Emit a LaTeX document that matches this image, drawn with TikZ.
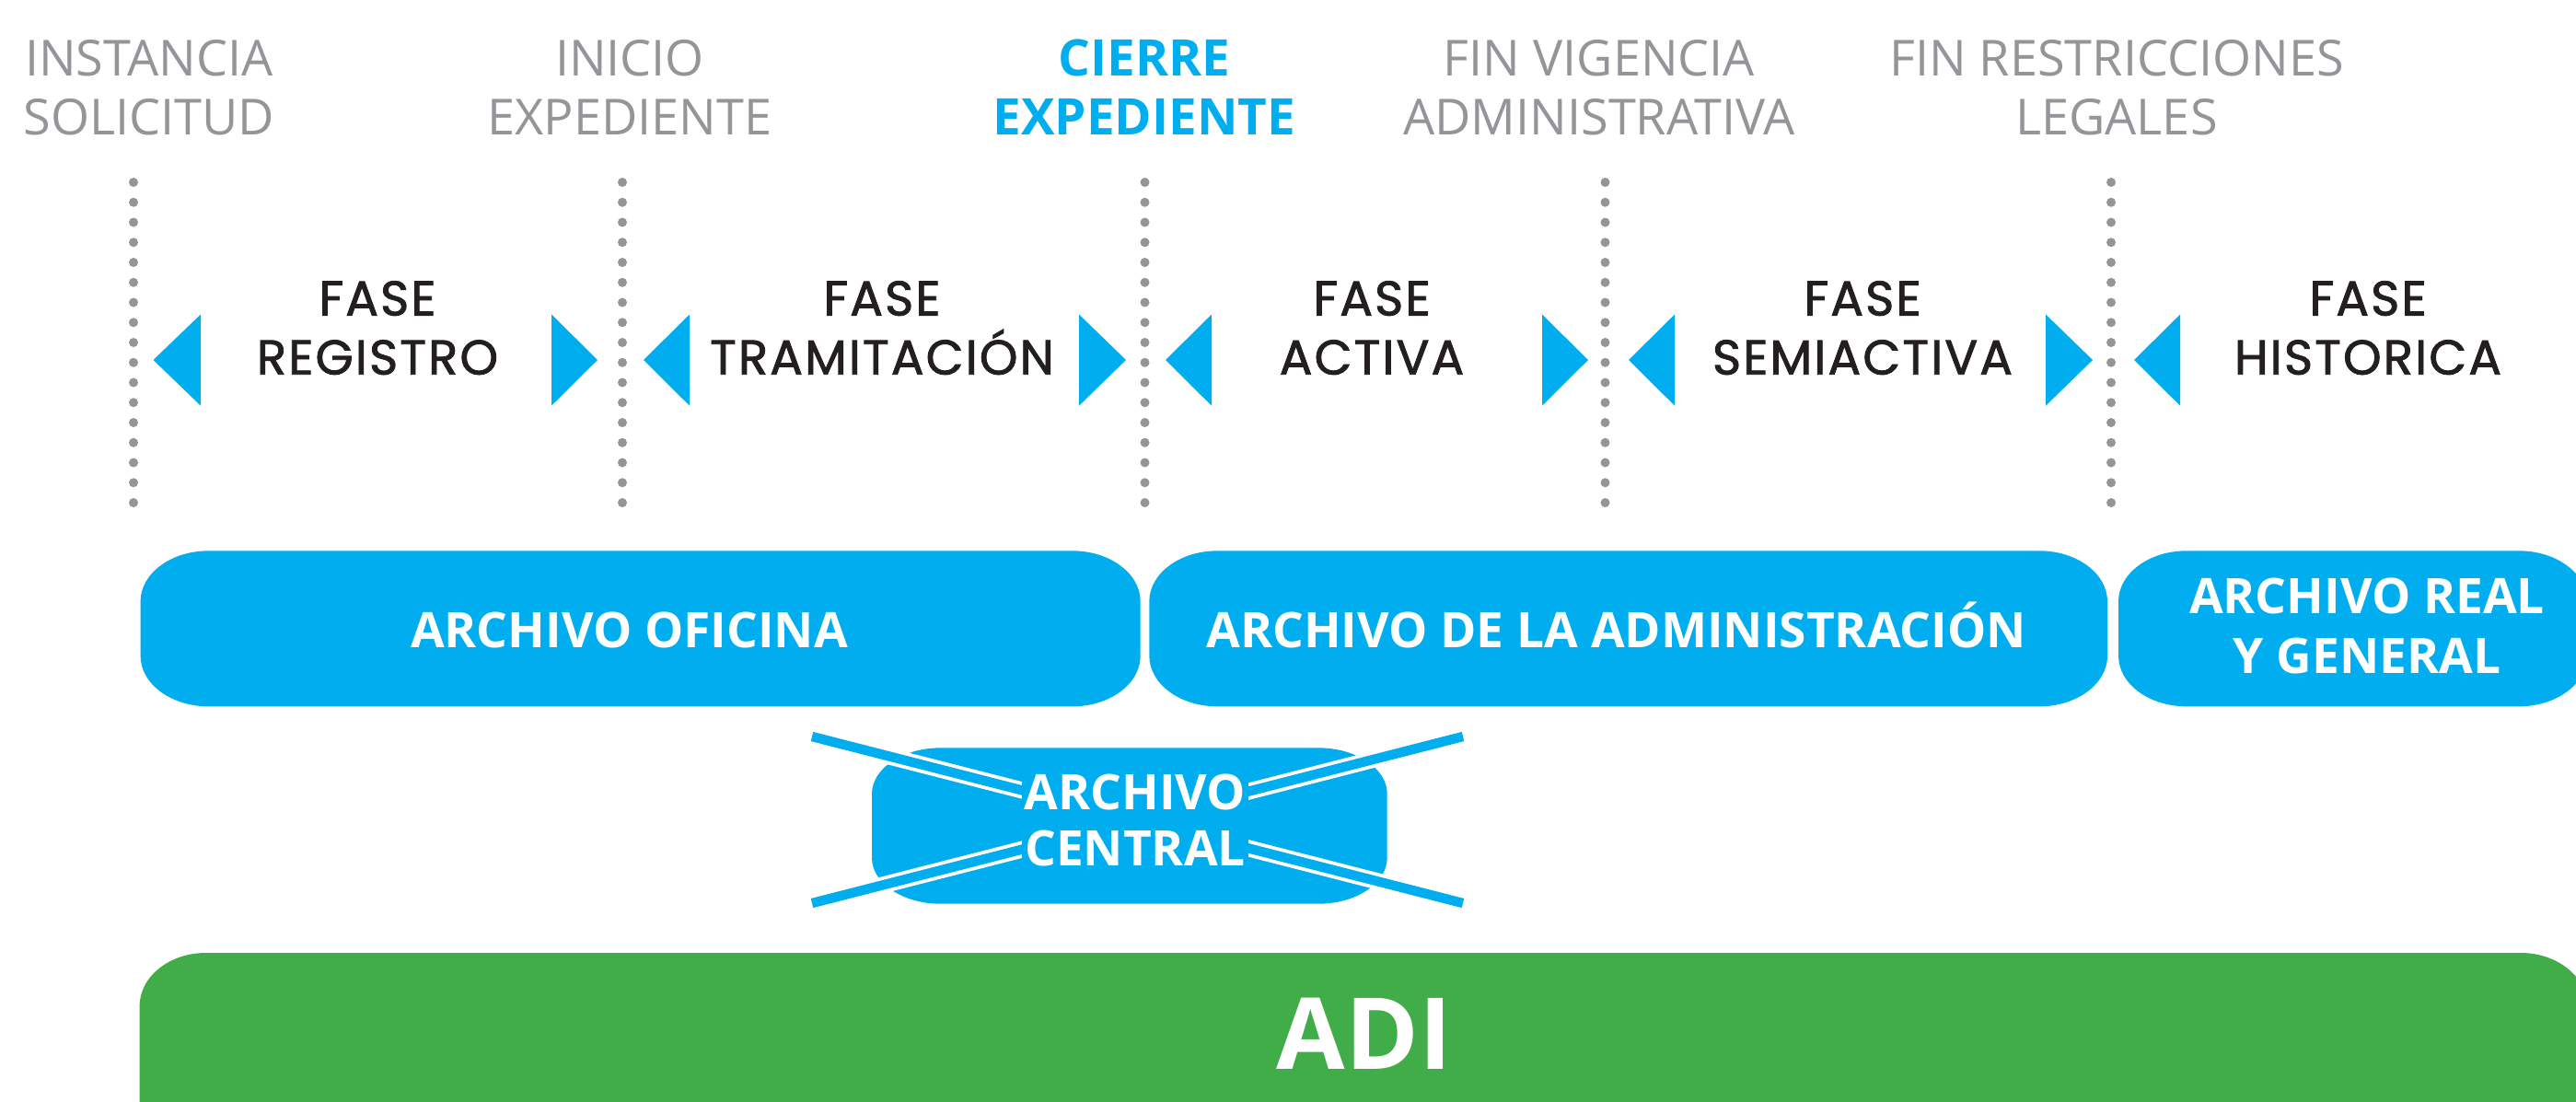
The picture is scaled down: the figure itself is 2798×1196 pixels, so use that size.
\documentclass[tikz,border=0pt]{standalone}
\usepackage{fontspec}
\setmainfont{Open Sans}
\newfontfamily\fasefont[FakeBold=1.6,LetterSpace=4]{Poppins}
\definecolor{cblue}{HTML}{00AEEF}
\definecolor{cgray}{HTML}{939598}
\definecolor{cdark}{HTML}{231F20}
\definecolor{cgreen}{HTML}{41AD49}
% elliptic rounded rectangle: x1,y1,x2,y2,colour,rx,ry
\newcommand\myrrect[7]{%
\fill[#5] ({#1+#6},#2) -- ({#3-#6},#2)
  .. controls ({#3-0.4477*#6},#2) and (#3,{#2+0.4477*#7}) .. (#3,{#2+#7})
  -- (#3,{#4-#7})
  .. controls (#3,{#4-0.4477*#7}) and ({#3-0.4477*#6},#4) .. ({#3-#6},#4)
  -- ({#1+#6},#4)
  .. controls ({#1+0.4477*#6},#4) and (#1,{#4-0.4477*#7}) .. (#1,{#4-#7})
  -- (#1,{#2+#7})
  .. controls (#1,{#2+0.4477*#7}) and ({#1+0.4477*#6},#2) .. ({#1+#6},#2) -- cycle;}
\begin{document}
\begin{tikzpicture}[x=0.5pt,y=-0.5pt,
  hdr/.style={text=cgray,font=\fontsize{27}{32}\selectfont,anchor=base,inner sep=0pt},
  hdrb/.style={text=cblue,font=\fontsize{27.4}{32}\selectfont\bfseries,anchor=base,inner sep=0pt},
  fase/.style={text=cdark,font=\fasefont\fontsize{26.5}{32}\selectfont,anchor=base,inner sep=0pt},
  boxtxt/.style={text=white,font=\fontsize{26.6}{32}\selectfont\bfseries,anchor=base,inner sep=0pt},
  tri/.style={fill=cblue},
  crossw/.style={draw=white,line width=9pt},
  crossb/.style={draw=cblue,line width=5.2pt}
]
\useasboundingbox (0,0) rectangle (2798,1196);
\fill[white] (0,0) rectangle (2798,1196);
% header labels
\node[hdr] (h1a) at (162,82) {INSTANCIA};
\node[hdr] (h1b) at (162,146.5) {SOLICITUD};
\node[hdr] (h2a) at (684,82) {INICIO};
\node[hdr] (h2b) at (684,146.5) {EXPEDIENTE};
\node[hdrb] (h3a) at (1243,82) {CIERRE};
\node[hdrb] (h3b) at (1243,146.5) {EXPEDIENTE};
\node[hdr] (h4a) at (1737,82) {FIN VIGENCIA};
\node[hdr] (h4b) at (1737,146.5) {ADMINISTRATIVA};
\node[hdr] (h5a) at (2299,82) {FIN RESTRICCIONES};
\node[hdr] (h5b) at (2299,146.5) {LEGALES};
% dotted separators
\foreach \x in {145,676,1243.5,1743.5,2293}
  \foreach \i in {0,...,16}
    \fill[cgray] (\x,{198+\i*21.75}) circle[radius=5];
% triangles
\foreach \tip/\base in {166.5/218, 699/749, 1266/1316, 1769/1819, 2318/2368}
  \fill[tri] (\tip,391) -- (\base,341.5) -- (\base,440.7) -- cycle;
\foreach \base/\tip in {599/649, 1172/1223, 1675/1725, 2222/2273}
  \fill[tri] (\tip,391) -- (\base,341.5) -- (\base,440.7) -- cycle;
% phase labels
\node[fase] (f1a) at (410,342.6) {FASE};
\node[fase] (f1b) at (410,406.7) {REGISTRO};
\node[fase] (f2a) at (958,342.6) {FASE};
\node[fase] (f2b) at (958,406.7) {TRAMITACIÓN};
\node[fase] (f3a) at (1490,342.6) {FASE};
\node[fase] (f3b) at (1490,406.7) {ACTIVA};
\node[fase] (f4a) at (2023,342.6) {FASE};
\node[fase] (f4b) at (2023,406.7) {SEMIACTIVA};
\node[fase] (f5a) at (2572,342.6) {FASE};
\node[fase] (f5b) at (2572,406.7) {HISTORICA};
% archive boxes
\myrrect{152.6}{598.3}{1238.7}{767.3}{cblue}{74}{55}
\myrrect{1248.3}{598.3}{2289}{767.3}{cblue}{74}{55}
\myrrect{2301}{598.3}{2810}{767.3}{cblue}{74}{55}
\node[boxtxt] (ao) at (683.5,703.3) {ARCHIVO OFICINA};
\node[boxtxt] (aa) at (1755.6,703.3) {ARCHIVO DE LA ADMINISTRACIÓN};
\node[boxtxt] (ar1) at (2571,666.7) {ARCHIVO REAL};
\node[boxtxt] (ar2) at (2571,731) {Y GENERAL};
% archivo central (crossed out)
\myrrect{947}{812.3}{1506.7}{981.7}{cblue}{75}{50}
\coordinate (xa1) at (882,800);
\coordinate (xa2) at (1589,981);
\coordinate (xb1) at (882,981);
\coordinate (xb2) at (1589,800);
\draw[crossw] (xa1) -- (xa2);
\draw[crossb] (xa1) -- (xa2);
\draw[crossw] (xb1) -- (xb2);
\draw[crossb] (xb1) -- (xb2);
\fill[cblue] (1110,836) rectangle (1356,946);
\node[boxtxt] (ac1) at (1233,879.3) {ARCHIVO};
\node[boxtxt] (ac2) at (1233,940.7) {CENTRAL};
% ADI
\myrrect{151.6}{1035}{2810}{1270}{cgreen}{72}{58}
\node[boxtxt,font=\fontsize{54}{60}\selectfont\bfseries] (adi) at (1482,1161) {ADI};
\end{tikzpicture}
\end{document}
